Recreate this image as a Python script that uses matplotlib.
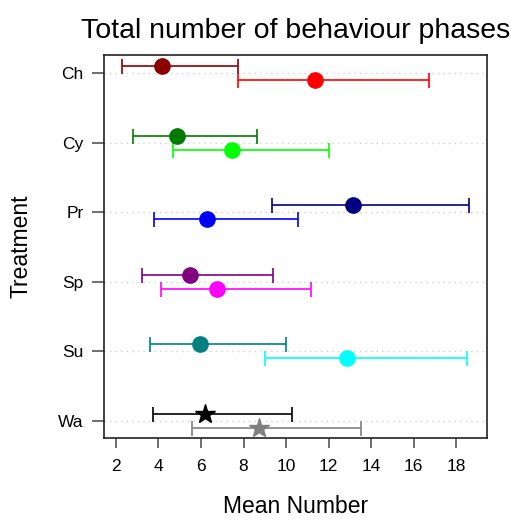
import matplotlib
matplotlib.use("Agg")
import matplotlib.pyplot as plt
import numpy as np

# ==========================================================
# Data
# ==========================================================

treatments = ["Ch", "Cy", "Pr", "Sp", "Su", "Wa"]

# first group (upper point of each pair)
mean_a = [4.16, 4.87, 13.17, 5.46, 5.97, 6.19]
low_a = [2.28, 2.80, 9.36, 3.24, 3.60, 3.76]
high_a = [7.76, 8.63, 18.63, 9.39, 10.01, 10.26]
colors_a = ["#8B0000", "#007A00", "#000080", "#800080", "#008080", "#000000"]

# second group (lower point of each pair)
mean_b = [11.38, 7.47, 6.26, 6.77, 12.87, 8.71]
low_b = [7.76, 4.66, 3.77, 4.13, 8.99, 5.59]
high_b = [16.74, 12.04, 10.58, 11.19, 18.52, 13.51]
colors_b = ["#FF0000", "#00FF00", "#0000FF", "#FF00FF", "#00FFFF", "#808080"]

markers = ["o", "o", "o", "o", "o", "*"]

# ==========================================================
# Plot
# ==========================================================

plt.rcParams["font.family"] = ["Liberation Sans", "DejaVu Sans"]

fig = plt.figure(figsize=(5.11, 5.20), dpi=100)
ax = fig.add_axes([0.2041, 0.1571, 0.7483, 0.7371])

ypos = np.arange(len(treatments), 0, -1)

for y in ypos:
    ax.axhline(y, color="#d0d0d0", linestyle=(0, (1, 3)), linewidth=1, zorder=0)

for i, y in enumerate(ypos):
    for mean, low, high, col, dy in [
        (mean_a[i], low_a[i], high_a[i], colors_a[i], 0.1),
        (mean_b[i], low_b[i], high_b[i], colors_b[i], -0.1),
    ]:
        size = 15 if markers[i] == "*" else 11
        ax.errorbar(
            mean, y + dy,
            xerr=[[mean - low], [high - mean]],
            fmt=markers[i],
            color=col,
            ecolor=col,
            markersize=size,
            elinewidth=1.2,
            capsize=5.4,
            capthick=1.2,
        )

ax.set_xlim(1.45, 19.44)
ax.set_ylim(0.75, 6.26)
ax.set_xticks(range(2, 19, 2))
ax.set_yticks(ypos)
ax.set_yticklabels(treatments)

ax.tick_params(axis="both", direction="out", width=1.2,
               color="#555555", labelsize=12.5)
ax.tick_params(axis="x", length=7, pad=8)
ax.tick_params(axis="y", length=9, pad=6)

for spine in ax.spines.values():
    spine.set_linewidth(1.2)
    spine.set_color("#222222")

ax.set_title("Total number of behaviour phases", fontsize=20.5, pad=12)
ax.set_xlabel("Mean Number", fontsize=16.5, labelpad=15)
ax.set_ylabel("Treatment", fontsize=16.5, labelpad=18)

fig.savefig("out.png", dpi=100)
